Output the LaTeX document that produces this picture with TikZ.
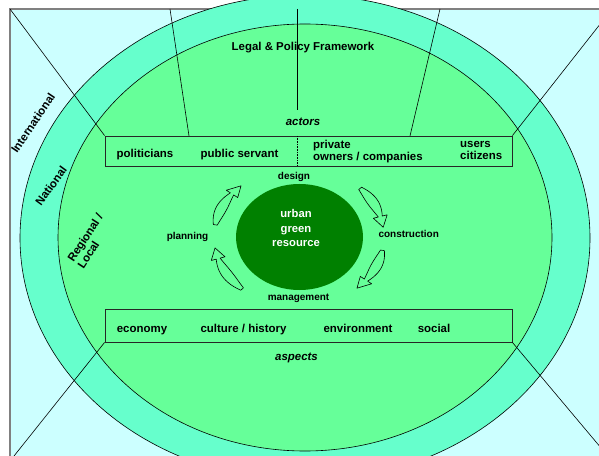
\documentclass[tikz,border=0pt]{standalone}
\usepackage{fontspec}
\setmainfont{Liberation Sans}
\definecolor{skycyan}{HTML}{CCFFFF}
\definecolor{ringgreen}{HTML}{66FFCC}
\definecolor{innergreen}{HTML}{66FF99}
\definecolor{coregreen}{HTML}{008000}
\definecolor{framegrey}{HTML}{808080}
% leaf-shaped arrow running clockwise round the core: #1 tail angle, #2 head base angle, #3 tip angle
\newcommand{\cyclearrow}[3]{%
  \draw[arrowline]
    plot[domain=#1:#2, samples=18, variable=\t]
      ({ax(1+lw((\t-#2)/(#1-#2)),\t)},{ay(1+lw((\t-#2)/(#1-#2)),\t)})
    -- ({ax(1.085,#2)},{ay(1.085,#2)})
    -- ({ax(1,#3)},{ay(1,#3)})
    -- ({ax(0.915,#2)},{ay(0.915,#2)})
    -- plot[domain=#2:#1, samples=18, variable=\t]
      ({ax(1-lw((\t-#2)/(#1-#2)),\t)},{ay(1-lw((\t-#2)/(#1-#2)),\t)})
    -- cycle;}
\begin{document}
\begin{tikzpicture}[x=1bp,y=-1bp,
  declare function={ax(\r,\t)=299+85*\r*cos(\t); ay(\r,\t)=237-70*\r*sin(\t);
                    lw(\s)=0.018+0.045*sin(165*\s+8);},
  lbl/.style={font=\fontsize{11.5}{12}\selectfont\bfseries, inner sep=0pt},
  ilbl/.style={font=\fontsize{11.5}{12}\selectfont\bfseries\itshape, inner sep=0pt},
  cyc/.style={font=\fontsize{10}{11}\selectfont\bfseries, inner sep=0pt},
  corelbl/.style={font=\fontsize{11.3}{15}\selectfont\bfseries, text=white, align=center, inner sep=0pt},
  rowbox/.style={draw=black!85, line width=0.8pt, fill=innergreen, inner sep=0pt},
  thin/.style={draw=black, line width=0.6pt},
  arrowline/.style={draw=black, line width=0.6pt, line join=round}]
\useasboundingbox (0,0) rectangle (599,456);
\clip (0,0) rectangle (599,456);

% frame corners
\coordinate (frameTL) at (10,9);
\coordinate (frameTR) at (612,9);
\coordinate (frameBL) at (10,461);
\coordinate (frameBR) at (612,461);
\fill[white] (0,0) rectangle (599,456);
\filldraw[fill=skycyan, draw=framegrey, line width=1.3pt] (frameTL) rectangle (frameBR);

% nested levels
\filldraw[fill=ringgreen, thin] (305,238) ellipse [x radius=285, y radius=243];
\filldraw[fill=innergreen, thin] (305,237.5) ellipse [x radius=247, y radius=213.5];

% actor and aspect rows
\node[rowbox, minimum width=407bp, minimum height=30bp] (actorsbox) at (308.5,151) {};
\node[rowbox, minimum width=407bp, minimum height=33bp] (aspectsbox) at (308.5,325.5) {};

% connectors to the frame corners
\draw[thin] (frameTL) -- (actorsbox.north west);
\draw[thin] (frameTR) -- (actorsbox.north east);
\draw[thin] (frameBL) -- (aspectsbox.south west);
\draw[thin] (frameBR) -- (aspectsbox.south east);

% dividers from the top edge
\coordinate (topA) at (170,9);
\coordinate (topB) at (440,9);
\coordinate (topC) at (297,9);
\coordinate (footA) at (189,136);
\coordinate (footB) at (410,136);
\coordinate (footC) at (297,110);
\coordinate (dashTop) at (297,136);
\coordinate (dashBot) at (297,166);
\draw[thin] (topA) -- (footA);
\draw[thin] (topB) -- (footB);
\draw[thin] (topC) -- (footC);
\draw[black, line width=0.6pt, densely dotted] (dashTop) -- (dashBot);

% core resource
\fill[coregreen] (299.5,237) ellipse [x radius=63.5, y radius=53];
\node[corelbl] (core) at (296,228) {urban\\green\\resource};

% management cycle arrows
\cyclearrow{170}{142}{133}
\cyclearrow{44}{17}{8}
\cyclearrow{-11}{-38}{-47}
\cyclearrow{228}{198}{189}

% texts
\node[lbl] (legal) at (303,48) {Legal \& Policy Framework};
\node[ilbl] (actors) at (303,122) {actors};
\node[lbl, anchor=base] (politicians) at (145,157.5) {politicians};
\node[lbl, anchor=base] (servant) at (239.5,157.5) {public servant};
\node[lbl, anchor=west, align=left] (private) at (313,152) {private\\owners / companies};
\node[lbl, anchor=west, align=left] (users) at (460,150) {users\\citizens};

\node[cyc] (design) at (294,177) {design};
\node[cyc] (planning) at (187.5,237) {planning};
\node[cyc] (construction) at (408.7,234) {construction};
\node[cyc] (management) at (298.5,298) {management};

\node[lbl, anchor=base] (economy) at (142,332) {economy};
\node[lbl, anchor=base] (culture) at (243.5,332) {culture / history};
\node[lbl, anchor=base] (environment) at (358,332) {environment};
\node[lbl, anchor=base] (social) at (434,332) {social};
\node[ilbl] (aspects) at (296.5,358) {aspects};

\node[lbl, rotate=56] (intl) at (33,123) {International};
\node[lbl, rotate=54] (natl) at (51,186) {National};
\node[lbl, rotate=57, align=left] (regl) at (90,241) {Regional /\\Local};
\end{tikzpicture}
\end{document}
